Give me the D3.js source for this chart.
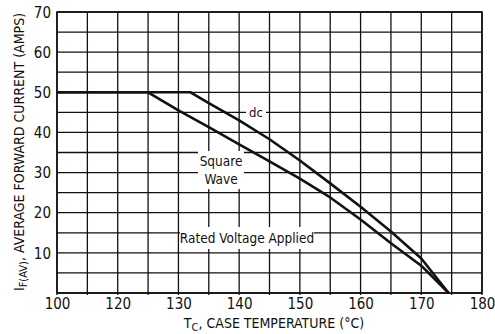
<!DOCTYPE html>
<html>
<head>
<meta charset="utf-8">
<script src="https://cdn.jsdelivr.net/npm/d3@7"></script>
<style>
  html, body { margin: 0; padding: 0; background: #fff; }
  svg text { font-family: "Liberation Sans Narrow", "DejaVu Sans Condensed", "Roboto", sans-serif; fill: #111; }
</style>
</head>
<body>
<svg id="chart" width="495" height="334"></svg>
<script>
// Case temperature (°C) and average forward current (A) for each waveform
const dcTemp = [110, 132, 135, 140, 145, 150, 155, 160, 165, 170, 174.5];
const dcCurrent = [50, 50, 47.3, 43, 38.3, 33, 27.3, 21.5, 15.3, 8.6, 0];
const squareTemp = [110, 125, 130, 135, 140, 145, 150, 155, 160, 165, 170, 174.5];
const squareCurrent = [50, 50, 45.5, 41.3, 37, 32.8, 28.5, 23.8, 18.3, 12.4, 6.8, 0];

// Axis ticks; the first temperature tick is printed as "100"
const xTickValues = [110, 120, 130, 140, 150, 160, 170, 180];
const xTickLabels = ["100", "120", "130", "140", "150", "160", "170", "180"];
const yTickValues = [10, 20, 30, 40, 50, 60, 70];
const yTickLabels = ["10", "20", "30", "40", "50", "60", "70"];

const svg = d3.select("#chart");
const x = d3.scaleLinear().domain([110, 180]).range([57, 482]);
const y = d3.scaleLinear().domain([0, 70]).range([293, 12]);

// Grid every 5 units in both directions
const grid = svg.append("g").attr("stroke", "#111").attr("stroke-width", 1.3);
grid.selectAll("line.v").data(d3.range(110, 180.1, 5)).join("line")
  .attr("x1", d => x(d)).attr("x2", d => x(d))
  .attr("y1", y(70)).attr("y2", y(0) + 2);
grid.selectAll("line.h").data(d3.range(0, 70.1, 5)).join("line")
  .attr("x1", x(110)).attr("x2", x(180))
  .attr("y1", d => y(d)).attr("y2", d => y(d));

svg.append("rect")
  .attr("x", x(110)).attr("y", y(70))
  .attr("width", x(180) - x(110)).attr("height", y(0) - y(70))
  .attr("fill", "none").attr("stroke", "#111").attr("stroke-width", 1.6);

// Axis tick labels
const xAxis = d3.axisBottom(x).tickValues(xTickValues).tickSize(0)
  .tickFormat((d, i) => xTickLabels[i]);
const gx = svg.append("g").attr("transform", `translate(0,${y(0)})`).call(xAxis);
gx.select(".domain").remove();
gx.selectAll("text").attr("dy", null).attr("y", 16).attr("font-size", 15)
  .attr("font-family", null).style("fill", "#111");

const yAxis = d3.axisLeft(y).tickValues(yTickValues).tickSize(0)
  .tickFormat((d, i) => yTickLabels[i]);
const gy = svg.append("g").attr("transform", `translate(${x(110)},0)`).call(yAxis);
gy.select(".domain").remove();
gy.selectAll("text").attr("x", -6).attr("dy", "0.35em").attr("font-size", 15)
  .attr("font-family", null).style("fill", "#111");

// Annotation boxes (white patches over the grid)
function boxLabel(lines, cx, cy, w, h, size) {
  svg.append("rect").attr("x", cx - w / 2).attr("y", cy - h / 2)
    .attr("width", w).attr("height", h).attr("fill", "#fff");
  const t = svg.append("text").attr("text-anchor", "middle").attr("font-size", size);
  const lh = size * 1.35;
  lines.forEach((s, i) => {
    t.append("tspan").attr("x", cx)
      .attr("y", cy + (i - (lines.length - 1) / 2) * lh + size * 0.36)
      .text(s);
  });
}

// Curves
const line = d3.line().x(d => x(d[0])).y(d => y(d[1]));
const dcPts = dcTemp.map((t, i) => [t, dcCurrent[i]]);
const sqPts = squareTemp.map((t, i) => [t, squareCurrent[i]]);

boxLabel(["dc"], 256, y(45), 20, 14, 13);
boxLabel(["Square", "Wave"], 221, 170, 46, 38, 13.5);
boxLabel(["Rated Voltage Applied"], 247, 238, 134, 22, 13.5);

svg.append("path").datum(dcPts).attr("d", line)
  .attr("fill", "none").attr("stroke", "#111").attr("stroke-width", 2.6)
  .attr("stroke-linejoin", "round");
svg.append("path").datum(sqPts).attr("d", line)
  .attr("fill", "none").attr("stroke", "#111").attr("stroke-width", 2.6)
  .attr("stroke-linejoin", "round");

// Axis titles
const xt = svg.append("text").attr("x", 274).attr("y", 328)
  .attr("text-anchor", "middle").attr("font-size", 14);
xt.append("tspan").text("T");
xt.append("tspan").attr("font-size", 11).attr("dy", 3).text("C");
xt.append("tspan").attr("dy", -3).text(", CASE TEMPERATURE (°C)");

const yt = svg.append("text")
  .attr("transform", `translate(24,152) rotate(-90)`)
  .attr("text-anchor", "middle").attr("font-size", 14);
yt.append("tspan").text("I");
yt.append("tspan").attr("font-size", 11).attr("dy", 3).text("F(AV)");
yt.append("tspan").attr("dy", -3).text(", AVERAGE FORWARD CURRENT (AMPS)");
</script>
</body>
</html>
